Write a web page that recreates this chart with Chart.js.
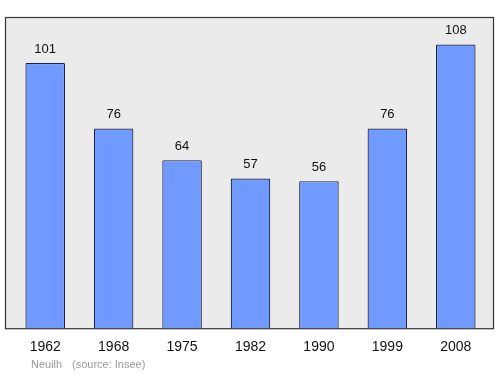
<!DOCTYPE html>
<html>
<head>
<meta charset="utf-8">
<script src="https://cdn.jsdelivr.net/npm/chart.js@4"></script>
<style>
  html, body { margin: 0; padding: 0; background: #fff; }
  #wrap { width: 500px; height: 374px; }
</style>
</head>
<body>
<div id="wrap"><canvas id="popChart" width="500" height="374"></canvas></div>
<script>
const years = ['1962', '1968', '1975', '1982', '1990', '1999', '2008'];
const population = [101, 76, 64, 57, 56, 76, 108];
const footerPlace = 'Neuilh';
const footerSource = '(source: Insee)';

const FONT = '"Liberation Sans", Arial, sans-serif';

// grey frame behind the plot
const framePlugin = {
    id: 'frame',
    beforeDraw(chart) {
        const { ctx, chartArea } = chart;
        ctx.save();
        ctx.fillStyle = '#ebebeb';
        ctx.strokeStyle = '#333333';
        ctx.lineWidth = 1.2;
        const x = chartArea.left - 6, y = chartArea.top;
        const w = chartArea.right - chartArea.left + 10, h = chartArea.bottom - chartArea.top;
        ctx.fillRect(x, y, w, h);
        ctx.strokeRect(x + 0.5, y + 0.5, w - 1, h);
        ctx.restore();
    },
    afterDraw(chart) {
        const { ctx } = chart;
        const meta = chart.getDatasetMeta(0);
        ctx.save();
        ctx.fillStyle = '#111111';
        ctx.font = '13px ' + FONT;
        ctx.textAlign = 'center';
        ctx.textBaseline = 'middle';
        meta.data.forEach((bar, i) => {
            ctx.fillText(String(population[i]), bar.x, bar.y - 14);
        });
        ctx.fillStyle = '#9a9a9a';
        ctx.font = '11px ' + FONT;
        ctx.textAlign = 'left';
        ctx.fillText(footerPlace, 31, 365);
        ctx.fillText(footerSource, 72, 365);
        ctx.restore();
    }
};

new Chart(document.getElementById('popChart').getContext('2d'), {
    type: 'bar',
    data: {
        labels: years,
        datasets: [{
            data: population,
            backgroundColor: '#709aff',
            borderColor: '#1c2340',
            borderWidth: 1.2,
            borderSkipped: 'bottom',
            borderRadius: 1,
            barPercentage: 0.578,
            categoryPercentage: 1
        }]
    },
    options: {
        responsive: false,
        animation: false,
        layout: { padding: { left: 11, right: 10, top: 17, bottom: 7 } },
        plugins: {
            legend: { display: false },
            tooltip: { enabled: false }
        },
        scales: {
            x: {
                grid: { display: false, drawTicks: false },
                border: { display: false },
                ticks: {
                    color: '#111111',
                    padding: 11,
                    font: { family: FONT, size: 14 }
                }
            },
            y: {
                display: false,
                min: 0,
                max: 118.5
            }
        }
    },
    plugins: [framePlugin]
});
</script>
</body>
</html>
